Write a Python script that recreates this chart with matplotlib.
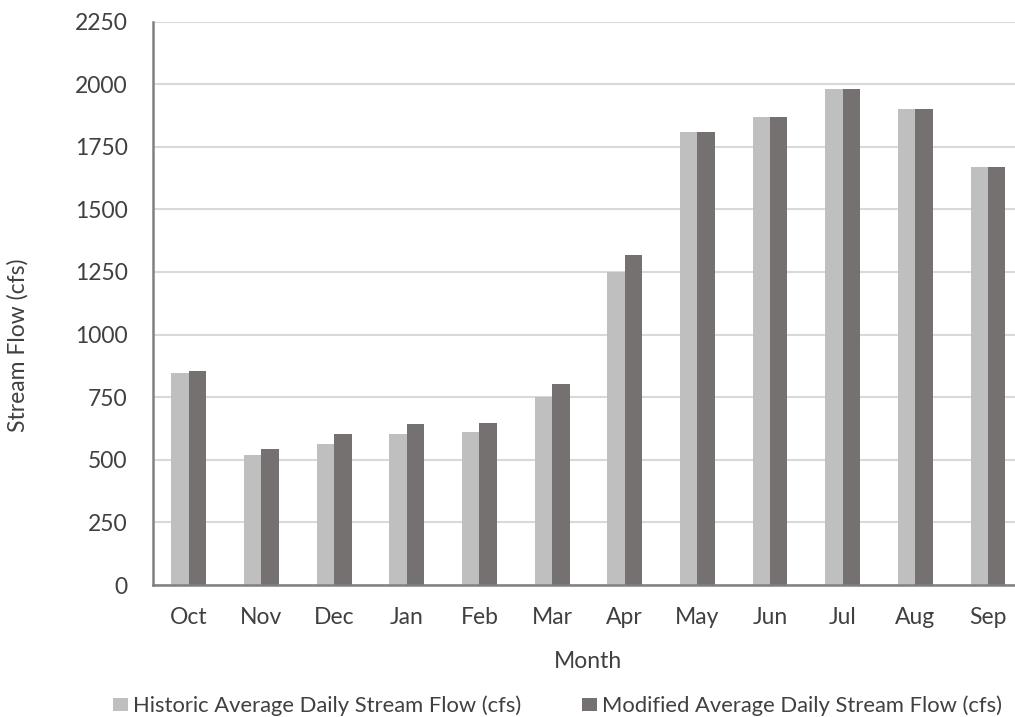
import matplotlib.pyplot as plt
import numpy as np

months = ['Oct', 'Nov', 'Dec', 'Jan', 'Feb', 'Mar', 'Apr', 'May', 'Jun', 'Jul', 'Aug', 'Sep']
historic = [847, 520, 563, 604, 609, 749, 1250, 1810, 1870, 1980, 1900, 1670]
modified = [855, 545, 601, 643, 647, 803, 1318, 1810, 1870, 1980, 1900, 1670]
yticks = [0, 250, 500, 750, 1000, 1250, 1500, 1750, 2000, 2250]
names = ['Historic Average Daily Stream Flow (cfs)',
         'Modified Average Daily Stream Flow (cfs)']

plt.rcParams['font.family'] = ['Lato', 'DejaVu Sans']

fig = plt.figure(figsize=(10.15, 7.17), dpi=100)
ax = fig.add_axes([152.5 / 1015, 132 / 717, 862.5 / 1015, 563.5 / 717])

x = np.arange(len(months))
w = 0.239
b1 = ax.bar(x - w / 2, historic, w, color='#BFBFBF', zorder=3, label=names[0])
b2 = ax.bar(x + w / 2, modified, w, color='#767171', zorder=3, label=names[1])

ax.set_xlim(-0.5, 11.37)
ax.set_ylim(0, 2250)
ax.set_yticks(yticks)
ax.set_xticks(x)
ax.set_xticklabels(months)
ax.tick_params(axis='both', length=0, labelsize=16.5, colors='#404040')
ax.tick_params(axis='y', pad=18)
ax.tick_params(axis='x', pad=16)
ax.yaxis.grid(True, color='#D9D9D9', linewidth=1.5, zorder=0)
for s in ['top', 'right']:
    ax.spines[s].set_visible(False)
for s in ['left', 'bottom']:
    ax.spines[s].set_color('#808080')
    ax.spines[s].set_linewidth(1.8)
    ax.spines[s].set_zorder(4)

fig.text(588 / 1015, 1 - 662 / 717, 'Month', ha='center', va='center',
         fontsize=16.5, color='#404040')
fig.text(18 / 1015, 1 - 345 / 717, 'Stream Flow (cfs)', ha='center', va='center',
         rotation=90, fontsize=16.5, color='#404040')

# two legend entries placed separately, like the original
for h, name, x0 in [(b1, names[0], 113), (b2, names[1], 582)]:
    fig.legend([h], [name], loc='center left', bbox_to_anchor=(x0 / 1015, 1 - 706 / 717),
               frameon=False, fontsize=15.8, handlelength=0.68, handleheight=0.55,
               handletextpad=0.22, borderpad=0, borderaxespad=0, labelcolor='#404040')

fig.savefig('out.png', dpi=100)
